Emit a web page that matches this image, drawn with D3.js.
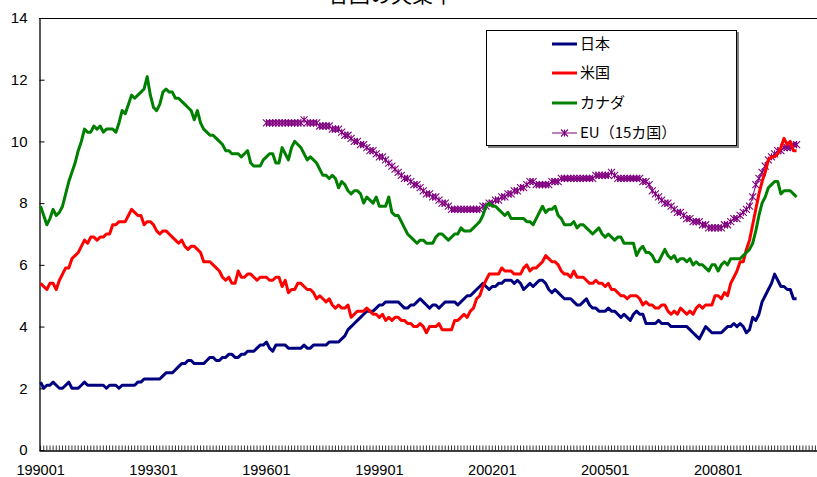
<!DOCTYPE html>
<html><head><meta charset="utf-8">
<script src="https://cdn.jsdelivr.net/npm/d3@7"></script>
<style>body{margin:0;background:#fff;overflow:hidden} svg{display:block}</style>
</head><body>
<svg id="c" width="817" height="477"></svg>
<script>
// ---- data ----
const startYear = 1990;
const monthCount = 252; // 199001 .. 201012 on the category axis
const xTickLabels = ["199001","199301","199601","199901","200201","200501","200801"];
const yTicks = [0,2,4,6,8,10,12,14];
const seriesNames = ["日本","米国","カナダ","EU（15カ国）"];
const seriesColors = ["#000080","#ff0000","#008000","#800080"];

const japan = [
2.2,2.0,2.1,2.1,2.2,2.1,2.0,2.0,2.1,2.2,2.0,2.0,
2.0,2.1,2.2,2.1,2.1,2.1,2.1,2.1,2.1,2.0,2.1,2.1,
2.1,2.0,2.1,2.1,2.1,2.1,2.1,2.2,2.2,2.3,2.3,2.3,
2.3,2.3,2.3,2.4,2.5,2.5,2.5,2.6,2.7,2.8,2.8,2.9,
2.9,2.8,2.8,2.8,2.8,2.9,3.0,3.0,2.9,2.9,3.0,3.0,
3.1,3.1,3.0,3.0,3.1,3.1,3.2,3.2,3.2,3.3,3.4,3.4,
3.5,3.3,3.2,3.4,3.4,3.4,3.4,3.3,3.3,3.3,3.3,3.3,
3.4,3.3,3.3,3.4,3.4,3.4,3.4,3.4,3.5,3.5,3.5,3.5,
3.6,3.7,3.9,4.0,4.1,4.2,4.3,4.4,4.5,4.5,4.5,4.6,
4.7,4.7,4.8,4.8,4.8,4.8,4.8,4.7,4.6,4.6,4.7,4.7,
4.8,4.9,4.8,4.7,4.6,4.7,4.7,4.6,4.7,4.8,4.8,4.8,
4.8,4.7,4.8,4.9,5.0,5.0,5.1,5.2,5.3,5.4,5.3,5.2,
5.3,5.3,5.4,5.4,5.5,5.5,5.5,5.4,5.5,5.4,5.2,5.3,
5.4,5.3,5.4,5.5,5.5,5.4,5.2,5.1,5.2,5.1,5.0,4.9,
4.9,4.9,4.8,4.7,4.7,4.8,4.9,4.7,4.6,4.6,4.5,4.5,
4.5,4.6,4.5,4.5,4.4,4.3,4.4,4.3,4.2,4.4,4.5,4.4,
4.4,4.1,4.1,4.1,4.1,4.2,4.1,4.1,4.1,4.0,4.0,4.0,
4.0,4.0,4.0,3.9,3.8,3.7,3.6,3.8,4.0,3.9,3.8,3.8,
3.8,3.8,3.9,4.0,4.0,4.1,4.0,4.1,4.0,3.8,3.9,4.3,
4.2,4.4,4.8,5.0,5.2,5.4,5.7,5.5,5.3,5.3,5.2,5.2,
4.9,4.9];

const usa = [
5.4,5.3,5.2,5.4,5.4,5.2,5.5,5.7,5.9,5.9,6.2,6.3,
6.4,6.6,6.8,6.7,6.9,6.9,6.8,6.9,6.9,7.0,7.0,7.3,
7.3,7.4,7.4,7.4,7.6,7.8,7.7,7.6,7.6,7.3,7.4,7.4,
7.3,7.1,7.0,7.1,7.1,7.0,6.9,6.8,6.7,6.8,6.6,6.5,
6.6,6.6,6.5,6.4,6.1,6.1,6.1,6.0,5.9,5.8,5.6,5.5,
5.6,5.4,5.4,5.8,5.6,5.6,5.7,5.7,5.6,5.5,5.6,5.6,
5.6,5.5,5.5,5.6,5.6,5.3,5.5,5.1,5.2,5.2,5.4,5.4,
5.3,5.2,5.2,5.1,4.9,5.0,4.9,4.8,4.9,4.7,4.6,4.7,
4.6,4.6,4.7,4.3,4.4,4.5,4.5,4.5,4.6,4.5,4.4,4.4,
4.3,4.4,4.2,4.3,4.2,4.3,4.3,4.2,4.2,4.1,4.1,4.0,
4.0,4.1,4.0,3.8,4.0,4.0,4.0,4.1,3.9,3.9,3.9,3.9,
4.2,4.2,4.3,4.4,4.3,4.5,4.6,4.9,5.0,5.3,5.5,5.7,
5.7,5.7,5.7,5.9,5.8,5.8,5.8,5.7,5.7,5.7,5.9,6.0,
5.8,5.9,5.9,6.0,6.1,6.3,6.2,6.1,6.1,6.0,5.8,5.7,
5.7,5.6,5.8,5.6,5.6,5.6,5.5,5.4,5.4,5.5,5.4,5.4,
5.3,5.4,5.2,5.2,5.1,5.0,5.0,4.9,5.0,5.0,5.0,4.9,
4.7,4.8,4.7,4.7,4.6,4.6,4.7,4.7,4.5,4.4,4.5,4.4,
4.6,4.5,4.4,4.5,4.4,4.6,4.7,4.6,4.7,4.7,4.7,5.0,
5.0,4.9,5.1,5.0,5.4,5.6,5.8,6.1,6.1,6.5,6.8,7.3,
7.8,8.3,8.7,9.0,9.4,9.5,9.5,9.6,9.8,10.1,9.9,10.0,
9.7,9.7];

const canada = [
7.9,7.6,7.3,7.5,7.8,7.6,7.7,7.9,8.3,8.7,9.0,9.3,
9.7,10.0,10.4,10.3,10.3,10.5,10.4,10.5,10.3,10.4,10.4,10.4,
10.3,10.6,11.0,10.9,11.2,11.5,11.4,11.5,11.6,11.7,12.1,11.5,
11.1,11.0,11.2,11.6,11.7,11.6,11.6,11.4,11.4,11.3,11.2,11.1,
11.0,10.7,11.0,10.6,10.4,10.3,10.2,10.2,10.1,10.0,9.9,9.7,
9.7,9.6,9.6,9.6,9.5,9.6,9.7,9.3,9.2,9.2,9.2,9.4,
9.5,9.6,9.6,9.3,9.3,9.8,9.6,9.4,9.8,10.0,9.9,9.8,
9.6,9.4,9.5,9.4,9.3,9.1,8.9,8.9,8.8,8.9,8.8,8.5,
8.7,8.6,8.4,8.3,8.4,8.4,8.3,8.0,8.2,8.1,8.0,8.2,
7.9,7.9,7.9,8.2,7.7,7.6,7.6,7.4,7.2,7.0,6.9,6.8,
6.7,6.8,6.8,6.7,6.7,6.7,6.9,7.0,7.0,6.9,6.8,6.9,
7.0,7.0,7.2,7.1,7.1,7.1,7.2,7.3,7.4,7.6,7.9,8.0,
7.9,7.9,7.8,7.7,7.6,7.7,7.5,7.5,7.5,7.5,7.5,7.4,
7.4,7.3,7.5,7.7,7.9,7.7,7.8,7.8,7.9,7.6,7.5,7.3,
7.3,7.3,7.4,7.2,7.3,7.3,7.2,7.1,7.0,7.1,7.2,7.0,
6.9,7.0,6.9,6.8,6.9,6.9,6.7,6.7,6.7,6.7,6.3,6.5,
6.6,6.4,6.4,6.3,6.1,6.1,6.3,6.5,6.3,6.2,6.3,6.1,
6.2,6.2,6.1,6.2,6.0,6.1,6.0,6.0,5.9,5.8,6.0,6.0,
5.8,6.0,6.1,6.0,6.2,6.2,6.2,6.2,6.3,6.4,6.5,6.7,
7.1,7.6,8.0,8.2,8.5,8.6,8.7,8.7,8.3,8.4,8.4,8.4,
8.3,8.2];

const euStart = 72; // EU15 series begins at 199601
const eu15 = [
10.6,10.6,10.6,10.6,10.6,10.6,10.6,10.6,10.6,10.6,10.6,10.6,
10.7,10.6,10.6,10.6,10.6,10.5,10.5,10.5,10.5,10.4,10.4,10.4,
10.3,10.2,10.2,10.1,10.0,10.0,9.9,9.9,9.8,9.7,9.7,9.6,
9.5,9.5,9.4,9.3,9.2,9.1,9.0,8.9,8.8,8.8,8.7,8.6,
8.6,8.5,8.4,8.3,8.3,8.2,8.2,8.1,8.0,8.0,7.9,7.8,
7.8,7.8,7.8,7.8,7.8,7.8,7.8,7.8,7.8,7.9,7.9,8.0,
8.0,8.1,8.1,8.2,8.2,8.3,8.3,8.4,8.4,8.5,8.5,8.6,
8.7,8.7,8.6,8.6,8.6,8.6,8.6,8.7,8.7,8.7,8.8,8.8,
8.8,8.8,8.8,8.8,8.8,8.8,8.8,8.8,8.8,8.9,8.9,8.9,
8.9,8.9,9.0,8.9,8.8,8.8,8.8,8.8,8.8,8.8,8.8,8.8,
8.7,8.7,8.6,8.4,8.3,8.2,8.1,8.0,8.0,7.9,7.8,7.7,
7.7,7.6,7.5,7.5,7.4,7.4,7.4,7.3,7.3,7.2,7.2,7.2,
7.2,7.2,7.3,7.3,7.4,7.5,7.5,7.6,7.7,7.8,7.9,8.2,
8.6,8.8,9.0,9.2,9.4,9.5,9.6,9.7,9.7,9.8,9.8,9.8,
9.9,9.9];

(function () {
// ---- chart ----
const categories = d3.range(monthCount).map(i => {
  const yr = startYear + Math.floor(i / 12), m = i % 12 + 1;
  return String(yr) + (m < 10 ? "0" + m : String(m));
});

const svg = d3.select("#c");
const plotLeft = 39, plotTop = 18, plotBottom = 450, bandW = 3.137;
const x = d3.scaleBand().domain(categories).range([plotLeft, plotLeft + monthCount * bandW]).padding(0);
const y = d3.scaleLinear().domain([0, 14]).range([plotBottom, plotTop]);
const cx = c => x(c) + x.bandwidth() / 2;

// title (mostly cropped off the top, as in the reference)
svg.append("text").attr("x", 391).attr("y", 2).attr("text-anchor", "middle")
  .attr("font-family", "'Noto Sans CJK JP', sans-serif").attr("font-size", 21).attr("fill", "#000")
  .text("各国の失業率");

// plot border (top)
svg.append("line").attr("x1", plotLeft).attr("x2", 817).attr("y1", plotTop + 0.5).attr("y2", plotTop + 0.5)
  .attr("stroke", "#000").attr("stroke-width", 1);

// y axis
const yAxis = d3.axisLeft(y).tickValues(yTicks).tickSizeInner(-5).tickSizeOuter(0).tickPadding(12)
  .tickFormat(d3.format("d"));
const gy = svg.append("g").attr("transform", `translate(${plotLeft + 0.5},0)`).call(yAxis);
gy.select(".domain").attr("stroke", "#000").attr("stroke-width", 1.3);
gy.selectAll(".tick line").attr("stroke", "#000");
gy.selectAll(".tick text").attr("font-family", "'Liberation Sans', Arial, sans-serif")
  .attr("font-size", 15).attr("fill", "#000");

// x axis
const xAxis = d3.axisBottom(x).tickSizeInner(-5).tickSizeOuter(0).tickPadding(0)
  .tickFormat(d => xTickLabels.includes(d) ? d : "");
const gx = svg.append("g").attr("transform", `translate(0,${plotBottom + 0.5})`).call(xAxis);
gx.select(".domain").attr("stroke", "#000").attr("stroke-width", 1.3);
gx.selectAll(".tick line").attr("stroke", "#000").attr("stroke-width", 0.8);
gx.selectAll(".tick text").attr("font-family", "'Liberation Sans', Arial, sans-serif")
  .attr("font-size", 14.5).attr("fill", "#000").attr("y", 24).attr("dy", null);

// series
const series = [
  {name: seriesNames[0], color: seriesColors[0], values: japan, start: 0},
  {name: seriesNames[1], color: seriesColors[1], values: usa, start: 0},
  {name: seriesNames[2], color: seriesColors[2], values: canada, start: 0},
  {name: seriesNames[3], color: seriesColors[3], values: eu15, start: euStart, marker: true}
];
const line = d3.line().x(d => cx(d.c)).y(d => y(d.v));

const drawOrder = [3, 0, 1, 2];
drawOrder.forEach(k => {
  const s = series[k];
  const pts = s.values.map((v, i) => ({c: categories[s.start + i], v}));
  if (s.marker) {
    svg.append("path").datum(pts).attr("d", line).attr("fill", "none")
      .attr("stroke", s.color).attr("stroke-width", 1);
    const mk = svg.append("g").attr("stroke", s.color).attr("stroke-width", 1.1);
    pts.forEach(p => {
      const px = cx(p.c), py = y(p.v), r = 3.5;
      mk.append("path").attr("d",
        `M${px - r},${py - r}L${px + r},${py + r}M${px - r},${py + r}L${px + r},${py - r}M${px},${py - r}L${px},${py + r}`);
    });
  } else {
    svg.append("path").datum(pts).attr("d", line).attr("fill", "none")
      .attr("stroke", s.color).attr("stroke-width", 3).attr("stroke-linejoin", "round");
  }
});

// legend
const lg = svg.append("g");
lg.append("rect").attr("x", 488).attr("y", 32).attr("width", 251).attr("height", 116).attr("fill", "#808080");
lg.append("rect").attr("x", 486.5).attr("y", 30.5).attr("width", 250).attr("height", 115)
  .attr("fill", "#fff").attr("stroke", "#000").attr("stroke-width", 1);
const rowsY = [44, 73, 103, 133];
series.forEach((s, i) => {
  const ry = rowsY[i];
  if (s.marker) {
    lg.append("line").attr("x1", 552).attr("x2", 577).attr("y1", ry).attr("y2", ry)
      .attr("stroke", s.color).attr("stroke-width", 1);
    const px = 564.5, r = 3.5;
    lg.append("path").attr("d",
      `M${px - r},${ry - r}L${px + r},${ry + r}M${px - r},${ry + r}L${px + r},${ry - r}M${px},${ry - r}L${px},${ry + r}`)
      .attr("stroke", s.color).attr("stroke-width", 1.1);
  } else {
    lg.append("line").attr("x1", 552).attr("x2", 577).attr("y1", ry).attr("y2", ry)
      .attr("stroke", s.color).attr("stroke-width", 3);
  }
  lg.append("text").attr("x", 580).attr("y", ry).attr("dy", "0.36em")
    .attr("font-family", "'Noto Sans CJK JP', sans-serif").attr("font-size", 15).attr("fill", "#000")
    .text(s.name);
});
})();
</script>
</body></html>
